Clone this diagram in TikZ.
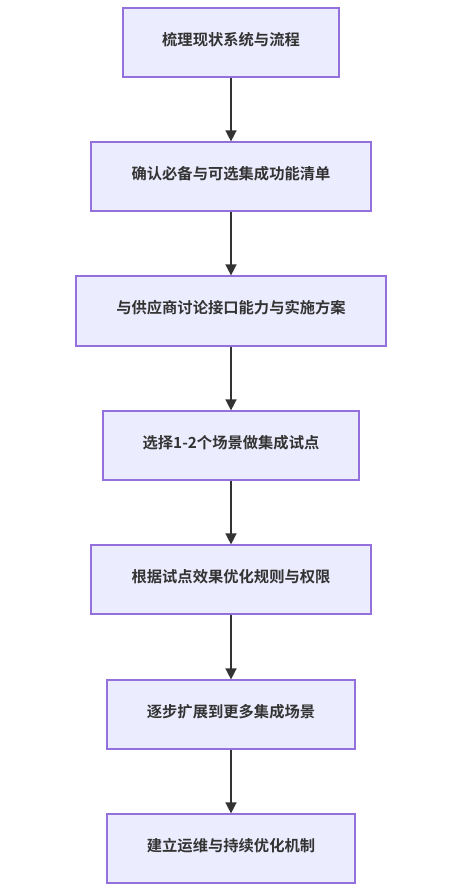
\documentclass[tikz,border=0pt]{standalone}
\usepackage{fontspec}
\setmainfont{Noto Sans CJK SC}[BoldFont={Noto Sans CJK SC Bold}]
\usetikzlibrary{arrows.meta}
\definecolor{boxfill}{HTML}{ECECFF}
\definecolor{boxline}{HTML}{9370DB}
\definecolor{txt}{HTML}{333333}
\tikzset{
  stepbox/.style={draw=boxline, fill=boxfill, line width=1.2pt, inner sep=0pt},
  steptext/.style={text=txt, inner sep=0pt, font=\fontsize{15.3}{18}\selectfont\bfseries},
  flow/.style={draw=txt, line width=1.5pt, -{Triangle[length=11pt,width=11pt]}}
}
\begin{document}
\begin{tikzpicture}[x=1pt,y=1pt]
\useasboundingbox (0,0) rectangle (468,-889);
\newcommand{\mkbox}[6]{%
  \node[stepbox, minimum width=#3-#2, minimum height=#5-#4] (#1) at ({(#2+#3)/2},{-(#4+#5)/2}) {};
  \node[steptext] (#1t) at ({(#2+#3)/2},{-(#4+#5)/2+3}) {#6};
}
\mkbox{b1}{123}{339}{8}{77}{梳理现状系统与流程}
\mkbox{b2}{91}{371}{142}{211}{确认必备与可选集成功能清单}
\mkbox{b3}{76}{386}{276}{346}{与供应商讨论接口能力与实施方案}
\mkbox{b4}{103}{359}{411}{480}{选择1-2个场景做集成试点}
\mkbox{b5}{91}{371}{545}{614}{根据试点效果优化规则与权限}
\mkbox{b6}{107}{355}{680}{749}{逐步扩展到更多集成场景}
\mkbox{b7}{107}{355}{814}{883}{建立运维与持续优化机制}
\draw[flow] (b1.south) -- (b2.north);
\draw[flow] (b2.south) -- (b3.north);
\draw[flow] (b3.south) -- (b4.north);
\draw[flow] (b4.south) -- (b5.north);
\draw[flow] (b5.south) -- (b6.north);
\draw[flow] (b6.south) -- (b7.north);
\end{tikzpicture}
\end{document}
